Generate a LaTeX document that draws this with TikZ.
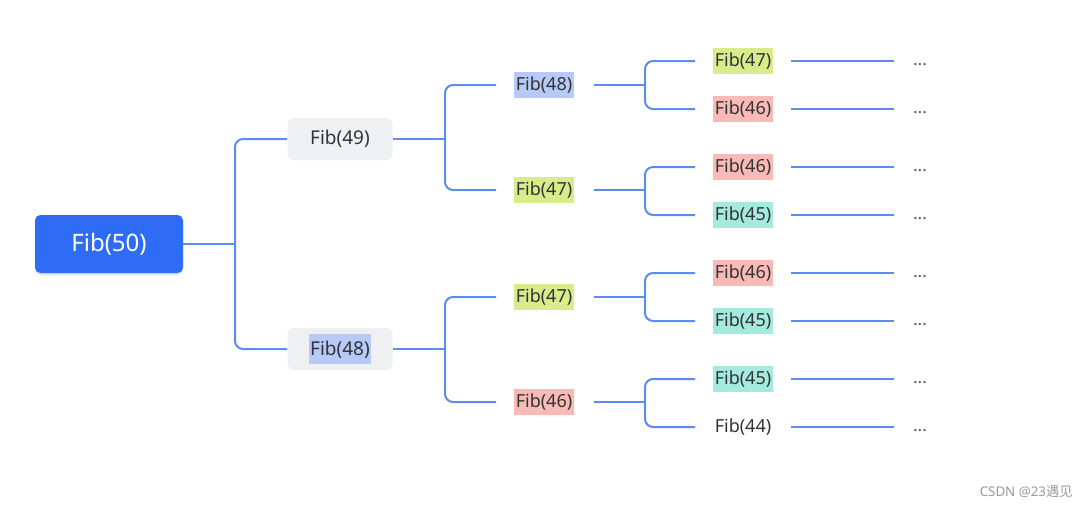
\documentclass[tikz,border=0pt]{standalone}
\usepackage{fontspec}
\setmainfont{Noto Sans}
\newfontfamily\cjk{Noto Sans CJK SC}
\usetikzlibrary{shadows}

\definecolor{rootblue}{RGB}{47,108,246}
\definecolor{linkblue}{RGB}{92,140,240}
\definecolor{boxgray}{RGB}{239,240,241}
\definecolor{txt}{RGB}{51,51,51}
\definecolor{hlblue}{RGB}{183,201,246}
\definecolor{hlgreen}{RGB}{216,236,140}
\definecolor{hlred}{RGB}{247,186,182}
\definecolor{hlcyan}{RGB}{165,234,222}

\tikzset{
	link/.style={draw=linkblue, line width=1.5pt, rounded corners=6pt},
	rootbox/.style={fill=rootblue, rounded corners=4pt, minimum width=111pt, minimum height=43.5pt, text=white, font=\fontsize{18}{20}\selectfont, drop shadow={shadow xshift=0pt, shadow yshift=-1.5pt, opacity=0.18, fill=rootblue}},
	graybox/.style={fill=boxgray, rounded corners=4.5pt, minimum width=78.75pt, minimum height=31.5pt, text=txt, font=\fontsize{14.25}{16}\selectfont},
	tag/.style={inner xsep=1pt, inner ysep=0pt, minimum height=19.5pt, text=txt, font=\fontsize{13.5}{16}\selectfont},
	more/.style={text=txt!80, font=\fontsize{13}{14}\selectfont, inner sep=0pt},
}

\begin{document}
\begin{tikzpicture}[x=0.75pt,y=0.75pt,yscale=-1,xscale=1]
	\useasboundingbox (0,0) rectangle (1090,508);
	
	% Root
	\node [rootbox] (r50) at (109,244) {Fib(50)};
	% Level 1
	\node [graybox] (a49) at (340,139) {Fib(49)};
	\node [graybox] (a48) at (340,349) {\setlength{\fboxsep}{1pt}\colorbox{hlblue}{\rule[-5pt]{0pt}{20pt}Fib(48)}};
	% Level 2
	\node [tag, fill=hlblue] (b48) at (544,85) {Fib(48)};
	\node [tag, fill=hlgreen] (b47) at (544,190) {Fib(47)};
	\node [tag, fill=hlgreen] (b47x) at (544,297) {Fib(47)};
	\node [tag, fill=hlred] (b46) at (544,402) {Fib(46)};
	% Level 3
	\node [tag, fill=hlgreen] (c1) at (743,61) {Fib(47)};
	\node [tag, fill=hlred] (c2) at (743,109) {Fib(46)};
	\node [tag, fill=hlred] (c3) at (743,167) {Fib(46)};
	\node [tag, fill=hlcyan] (c4) at (743,215) {Fib(45)};
	\node [tag, fill=hlred] (c5) at (743,273) {Fib(46)};
	\node [tag, fill=hlcyan] (c6) at (743,321) {Fib(45)};
	\node [tag, fill=hlcyan] (c7) at (743,379) {Fib(45)};
	\node [tag] (c8) at (743,427) {Fib(44)};
	% Dots
	\foreach \i/\y in {1/61,2/109,3/167,4/215,5/273,6/321,7/379,8/427}
		\node [more] (d\i) at (920,\y+4) {...};
	
	% Junctions
	\coordinate (j0) at (235,244);
	\coordinate (j1) at (445,139);
	\coordinate (j2) at (445,349);
	\coordinate (k1) at (645,85);
	\coordinate (k2) at (645,190);
	\coordinate (k3) at (645,297);
	\coordinate (k4) at (645,402);
	
	% Links level 0 -> 1
	\draw [link] (r50.east) -- (j0);
	\draw [link] (j0) |- (a49.west);
	\draw [link] (j0) |- (a48.west);
	% Links level 1 -> 2
	\draw [link] (a49.east) -- (j1);
	\draw [link] (a48.east) -- (j2);
	\draw [link, shorten >=13.5pt] (j1) |- (b48.west);
	\draw [link, shorten >=13.5pt] (j1) |- (b47.west);
	\draw [link, shorten >=13.5pt] (j2) |- (b47x.west);
	\draw [link, shorten >=13.5pt] (j2) |- (b46.west);
	% Links level 2 -> 3
	\draw [link, shorten <=15pt] (b48.east) -- (k1);
	\draw [link, shorten <=15pt] (b47.east) -- (k2);
	\draw [link, shorten <=15pt] (b47x.east) -- (k3);
	\draw [link, shorten <=15pt] (b46.east) -- (k4);
	\draw [link, shorten >=13.5pt] (k1) |- (c1.west);
	\draw [link, shorten >=13.5pt] (k1) |- (c2.west);
	\draw [link, shorten >=13.5pt] (k2) |- (c3.west);
	\draw [link, shorten >=13.5pt] (k2) |- (c4.west);
	\draw [link, shorten >=13.5pt] (k3) |- (c5.west);
	\draw [link, shorten >=13.5pt] (k3) |- (c6.west);
	\draw [link, shorten >=13.5pt] (k4) |- (c7.west);
	\draw [link, shorten >=13.5pt] (k4) |- (c8.west);
	% Links level 3 -> dots
	\foreach \i in {1,...,8}
		\draw [link, shorten <=14pt, shorten >=14pt] (c\i.east) -- (c\i.east -| d\i.west);
	
	% Text Node
	\node [anchor=east, inner sep=0pt, text=black!40, font=\fontsize{10}{12}\selectfont] (mark) at (1073,492) {CSDN @23{\cjk 遇见}};
\end{tikzpicture}
\end{document}
